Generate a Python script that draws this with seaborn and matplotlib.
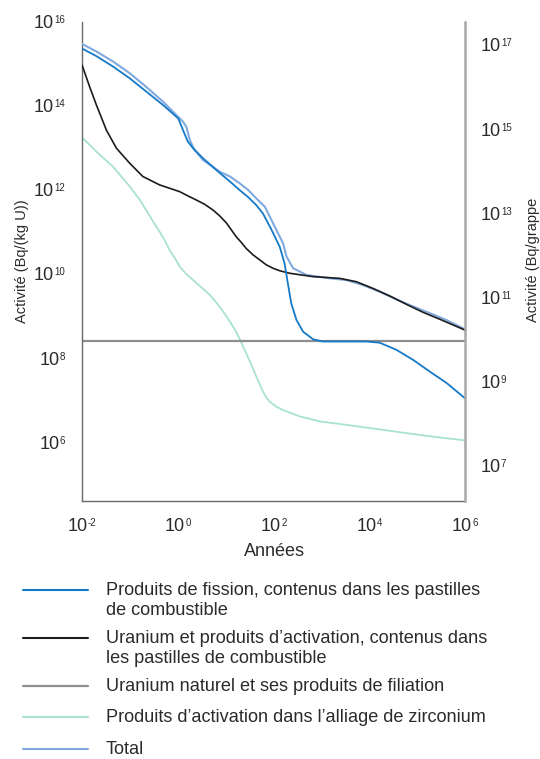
import numpy as np
import pandas as pd
import matplotlib
matplotlib.use("Agg")
import matplotlib.pyplot as plt
import seaborn as sns
from matplotlib.offsetbox import TextArea, HPacker, AnnotationBbox
from matplotlib.lines import Line2D
from matplotlib.ticker import NullLocator

# ---- data: log10(years) and log10(activity in Bq/(kg U)) -------------------
fission_log_t = [-2.0, -1.70, -1.35, -1.00, -0.66, -0.31, 0.01, 0.11, 0.21, 0.32,
                 0.53, 0.88, 1.09, 1.29, 1.47, 1.64, 1.78, 1.96, 2.13, 2.23,
                 2.30, 2.37, 2.48, 2.62, 2.83, 3.03, 3.52, 3.94, 4.22, 4.57,
                 4.92, 5.27, 5.62, 6.0]
fission_log_a = [15.37, 15.19, 14.94, 14.66, 14.35, 14.03, 13.71, 13.43, 13.16, 13.00,
                 12.76, 12.41, 12.21, 12.01, 11.84, 11.65, 11.45, 11.06, 10.66, 10.27,
                 9.79, 9.32, 8.92, 8.64, 8.46, 8.41, 8.41, 8.41, 8.38, 8.21,
                 7.97, 7.69, 7.42, 7.06]

uranium_log_t = [-2.0, -1.84, -1.70, -1.49, -1.28, -1.00, -0.73, -0.38, -0.17, 0.04,
                 0.21, 0.39, 0.56, 0.74, 0.88, 1.02, 1.12, 1.22, 1.33, 1.43,
                 1.57, 1.71, 1.85, 1.99, 2.13, 2.34, 2.83, 3.38, 3.73, 4.08,
                 4.43, 4.78, 5.13, 5.47, 6.0]
uranium_log_a = [14.98, 14.46, 14.03, 13.43, 13.00, 12.64, 12.33, 12.13, 12.05, 11.97,
                 11.87, 11.77, 11.67, 11.53, 11.39, 11.22, 11.06, 10.90, 10.76, 10.62,
                 10.47, 10.35, 10.23, 10.15, 10.09, 10.03, 9.95, 9.91, 9.83, 9.67,
                 9.49, 9.29, 9.10, 8.94, 8.68]

zirconium_log_t = [-2.0, -1.70, -1.35, -1.00, -0.79, -0.66, -0.52, -0.38, -0.27, -0.17,
                   -0.06, 0.04, 0.18, 0.32, 0.49, 0.67, 0.81, 0.95, 1.09, 1.22,
                   1.33, 1.43, 1.54, 1.64, 1.78, 1.85, 1.92, 2.06, 2.20, 2.55,
                   2.97, 3.52, 4.22, 4.92, 5.47, 6.0]
zirconium_log_a = [13.26, 12.92, 12.56, 12.09, 11.77, 11.53, 11.27, 11.02, 10.81, 10.58,
                   10.39, 10.19, 10.01, 9.87, 9.70, 9.52, 9.33, 9.12, 8.88, 8.64,
                   8.38, 8.13, 7.85, 7.58, 7.22, 7.08, 6.98, 6.86, 6.78, 6.63,
                   6.51, 6.43, 6.32, 6.21, 6.13, 6.06]

total_log_t = [-2.0, -1.70, -1.35, -1.00, -0.66, -0.31, 0.04, 0.11, 0.18, 0.25,
               0.35, 0.53, 0.88, 1.09, 1.29, 1.47, 1.64, 1.82, 1.92, 2.13,
               2.20, 2.27, 2.41, 2.69, 3.18, 3.52, 3.87, 4.22, 4.57, 4.92,
               5.27, 5.61, 6.0]
total_log_a = [15.48, 15.30, 15.06, 14.78, 14.46, 14.11, 13.71, 13.63, 13.51, 13.20,
               12.96, 12.72, 12.44, 12.33, 12.17, 12.01, 11.81, 11.61, 11.38, 10.90,
               10.74, 10.43, 10.15, 9.99, 9.91, 9.87, 9.75, 9.59, 9.41, 9.24,
               9.08, 8.92, 8.70]

natural_uranium_activity = 2.7e8      # Bq/(kg U), constant reference level
bundle_factor = 10 ** 1.56            # Bq/grappe per Bq/(kg U)

x_tick_exponents = [-2, 0, 2, 4, 6]
left_tick_exponents = [6, 8, 10, 12, 14, 16]
right_tick_exponents = [7, 9, 11, 13, 15, 17]

series_labels = [
    "Produits de fission, contenus dans les pastilles\nde combustible",
    "Uranium et produits d’activation, contenus dans\nles pastilles de combustible",
    "Uranium naturel et ses produits de filiation",
    "Produits d’activation dans l’alliage de zirconium",
    "Total",
]
series_colors = ["#1479c6", "#1c1c1c", "#8e8e8e", "#a9e1d3", "#80a9de"]

x_label = "Années"
y_label_left = "Activité (Bq/(kg U))"
y_label_right = "Activité (Bq/grappe"

# ---- styling ----------------------------------------------------------------
sns.set_theme(style="white")
plt.rcParams["font.family"] = ["Liberation Sans", "DejaVu Sans"]
plt.rcParams["lines.solid_joinstyle"] = "round"
TXT = "#2b2b2b"

W, H = 540, 759
fig = plt.figure(figsize=(W / 100, H / 100), dpi=100)


def fx(px):
    return px / W


def fy(py):
    return 1 - py / H


ax = fig.add_axes([fx(82), fy(501), fx(465) - fx(82), fy(22) - fy(501)])
ax.set_xscale("log")
ax.set_yscale("log")
ax.set_xlim(1e-2, 1e6)
ax.set_ylim(10 ** 4.62, 1e16)


def curve(log_t, log_a, name):
    return pd.DataFrame({"Années": np.power(10.0, log_t),
                         "Activité": np.power(10.0, log_a),
                         "Série": name})


frames = {
    "fission": curve(fission_log_t, fission_log_a, series_labels[0]),
    "uranium": curve(uranium_log_t, uranium_log_a, series_labels[1]),
    "zirconium": curve(zirconium_log_t, zirconium_log_a, series_labels[3]),
    "total": curve(total_log_t, total_log_a, series_labels[4]),
}

sns.lineplot(data=frames["zirconium"], x="Années", y="Activité", color=series_colors[3],
             lw=1.3, estimator=None, sort=False, legend=False, ax=ax)
ax.axhline(natural_uranium_activity, color=series_colors[2], lw=1.6, zorder=2.5)
sns.lineplot(data=frames["total"], x="Années", y="Activité", color=series_colors[4],
             lw=1.5, estimator=None, sort=False, legend=False, ax=ax, zorder=3)
sns.lineplot(data=frames["uranium"], x="Années", y="Activité", color=series_colors[1],
             lw=1.2, estimator=None, sort=False, legend=False, ax=ax, zorder=3.2)
sns.lineplot(data=frames["fission"], x="Années", y="Activité", color=series_colors[0],
             lw=1.3, estimator=None, sort=False, legend=False, ax=ax, zorder=3.4)

# secondary scale in Bq per fuel assembly
ax2 = ax.twinx()
ax2.set_yscale("log")
lo, hi = ax.get_ylim()
ax2.set_ylim(lo * bundle_factor, hi * bundle_factor)

for a in (ax, ax2):
    a.xaxis.set_major_locator(NullLocator())
    a.xaxis.set_minor_locator(NullLocator())
    a.yaxis.set_major_locator(NullLocator())
    a.yaxis.set_minor_locator(NullLocator())
    a.set_xlabel("")
    a.set_ylabel("")
    for s in a.spines.values():
        s.set_visible(False)

ax.spines["left"].set_visible(True)
ax.spines["left"].set_color("#6a6a6a")
ax.spines["left"].set_linewidth(1.0)
ax.spines["bottom"].set_visible(True)
ax.spines["bottom"].set_color("#6a6a6a")
ax.spines["bottom"].set_linewidth(1.0)
ax2.spines["right"].set_visible(True)
ax2.spines["right"].set_color("#a8a8a8")
ax2.spines["right"].set_linewidth(1.8)


def power_label(target, exp, xy, xycoords, offset, align):
    base = TextArea("10", textprops=dict(fontsize=13, color=TXT))
    sup = TextArea(str(exp), textprops=dict(fontsize=7, color=TXT))
    box = HPacker(children=[base, sup], align="top", pad=0, sep=0.3)
    ab = AnnotationBbox(box, xy, xycoords=xycoords, xybox=offset,
                        boxcoords="offset points", box_alignment=align,
                        frameon=False, pad=0, annotation_clip=False)
    target.add_artist(ab)


for e in x_tick_exponents:
    power_label(ax, e, (10.0 ** e, 0), ax.get_xaxis_transform(), (0, -12), (0.5, 1.0))
for e in left_tick_exponents:
    power_label(ax, e, (0, 10.0 ** e), ax.get_yaxis_transform(), (-12, -1.0), (1.0, 0.5))
for e in right_tick_exponents:
    power_label(ax2, e, (1, 10.0 ** e), ax2.get_yaxis_transform(), (11, -1.0), (0.0, 0.5))

fig.text(fx(274), fy(551), x_label, ha="center", va="center", fontsize=13, color=TXT)
fig.text(fx(22), fy(261), y_label_left, rotation=90, ha="center", va="center",
         fontsize=10.5, color=TXT)
fig.text(fx(533), fy(260), y_label_right, rotation=90, ha="center", va="center",
         fontsize=10.5, color=TXT)

# ---- legend below the plot ---------------------------------------------------
legend_rows = [590, 638, 686, 717, 749]
legend_widths = [1.5, 1.5, 1.6, 1.5, 1.5]
for label, color, row, lw in zip(series_labels, series_colors, legend_rows, legend_widths):
    fig.add_artist(Line2D([fx(23), fx(88)], [fy(row), fy(row)], transform=fig.transFigure,
                          color=color, lw=lw))
    fig.text(fx(106), fy(row - 8), label, ha="left", va="top", fontsize=13.1,
             color=TXT, linespacing=1.22)

fig.savefig("out.png", dpi=100)
